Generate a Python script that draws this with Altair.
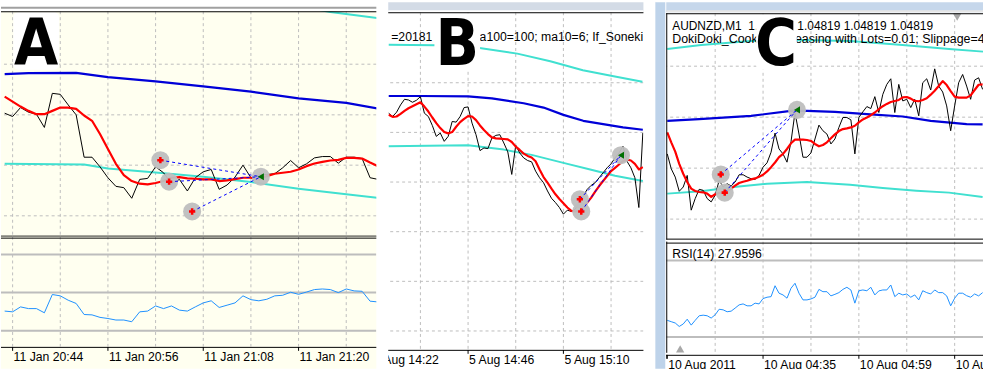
import altair as alt
import pandas as pd

# ================= DATA =================
# ---- Panel A : 11 Jan, M1 (x = minutes after 20:44) ----
A_MIN = list(range(-1, 47))
A_CLOSE = [665, 655, 682, 668, 662, 622, 725, 722, 690, 660,
           532, 532, 503, 470, 444, 440, 408, 465, 468, 503,
           485, 452, 465, 430, 470, 488, 495, 435, 448, 472,
           508, 470, 478, 480, 482, 500, 522, 500, 512, 530,
           534, 534, 514, 532, 532, 528, 470, 465]
A_MA_FAST = [715, 700, 685, 672, 662, 662, 672, 682, 682, 678,
             658, 642, 602, 557, 512, 478, 460, 452, 450, 454,
             460, 470, 472, 468, 467, 465, 465, 460, 462, 466,
             470, 470, 465, 475, 482, 485, 488, 495, 505, 513,
             518, 522, 524, 530, 530, 528, 516, 505]
A_MA_SLOW_MIN = [-1, 2, 8, 12, 18, 24, 30, 36, 42, 46]
A_MA_SLOW = [783, 786, 787, 774, 761, 746, 730, 710, 696, 679]
A_BAND_LO_MIN = [-1, 9, 12, 18, 24, 30, 36, 42, 46]
A_BAND_LO = [512, 510, 498, 486, 473, 457, 437, 420, 409]
A_BAND_HI_MIN = [36, 40, 46]
A_BAND_HI = [988, 971, 952]
A_RSI = [40.3, 39.9, 42.5, 41.6, 41.6, 39.4, 49.0, 48.3, 46.0, 44.3,
         38.5, 38.3, 37.0, 36.4, 35.6, 35.6, 34.7, 39.9, 40.3, 43.0,
         41.6, 43.0, 40.8, 40.3, 42.5, 44.6, 45.7, 42.2, 43.4, 44.6,
         48.3, 46.3, 45.7, 46.5, 48.3, 48.6, 50.2, 49.1, 50.3, 51.6,
         51.9, 51.6, 50.0, 51.9, 50.9, 50.7, 45.5, 45.1]
A_OPEN_MIN = [18.6, 19.7, 22.6]
A_OPEN_PRICE = [523, 458, 368]
A_EXIT_MIN = [31.25]
A_EXIT_PRICE = [473]
A_TICK_MIN = [0, 12, 24, 36]
A_TICK_LABELS = ["11 Jan 20:44", "11 Jan 20:56", "11 Jan 21:08", "11 Jan 21:20"]
A_VGRID = [0, 6, 12, 18, 24, 30, 36, 42]
A_HGRID = [813, 660, 508, 355]
A_LEVELS = [30, 50, 70]

# ---- Panel B : 5 Aug (x = minutes after 14:22) ----
B_MIN = list(range(4, 69))
B_CLOSE = [765, 755, 768, 790, 807, 805, 798, 804, 815, 765,
           755, 728, 695, 705, 680, 695, 740, 738, 755, 782,
           784, 735, 700, 652, 660, 658, 690, 698, 700, 675,
           648, 580, 668, 645, 630, 622, 618, 590, 570, 555,
           530, 508, 495, 480, 460, 472, 468, 475, 495, 515,
           535, 547, 555, 570, 585, 600, 612, 630, 645, 665,
           620, 600, 570, 480, 705]
B_MA_FAST = [760, 754, 755, 763, 772, 780, 786, 792, 798, 785,
             770, 752, 735, 720, 708, 704, 708, 724, 738, 748,
             756, 755, 744, 728, 714, 702, 692, 689, 688, 687,
             686, 678, 664, 654, 643, 636, 631, 620, 595, 572,
             555, 537, 520, 506, 493, 480, 470, 468, 470, 480,
             495, 510, 528, 545, 560, 575, 590, 600, 610, 620,
             625, 622, 612, 595, 602]
B_MA_SLOW_MIN = [4, 12, 24, 30, 38, 43, 48, 53, 58, 63, 68]
B_MA_SLOW = [817, 817, 816, 810, 795, 782, 760, 742, 732, 722, 715]
B_BAND_LO_MIN = [4, 24, 33, 40, 48, 55, 61, 68]
B_BAND_LO = [665, 668, 655, 639, 615, 594, 576, 560]
B_BAND_HI_MIN = [4, 15.7, 26.9, 36.4, 44.7, 52.9, 61.3, 67.9]
B_BAND_HI = [972, 970, 962, 945, 922, 895, 875, 860]
B_OPEN_MIN = [52.15, 52.5]
B_OPEN_PRICE = [505, 468]
B_EXIT_MIN = [62.5]
B_EXIT_PRICE = [638]
B_TICK_MIN = [0, 24, 48]
B_TICK_LABELS = ["5 Aug 14:22", "5 Aug 14:46", "5 Aug 15:10"]
B_VGRID = [12, 24, 36, 48, 60]
B_HGRID = [857, 707, 557, 407, 257, 107]

# ---- Panel C : AUDNZD M1, 10 Aug 2011 (x = minutes after 04:11) ----
C_MIN = list(range(0, 80))
C_CLOSE = [545, 500, 475, 432, 445, 480, 375, 410, 438, 435,
           410, 400, 420, 465, 445, 455, 448, 460, 482, 482,
           475, 470, 468, 480, 505, 518, 550, 608, 560, 545,
           520, 582, 670, 605, 535, 535, 548, 590, 632, 615,
           605, 575, 590, 625, 655, 655, 648, 545, 655, 672,
           688, 682, 718, 670, 725, 755, 772, 670, 755, 705,
           710, 685, 710, 660, 760, 772, 738, 802, 750, 732,
           690, 615, 690, 760, 785, 750, 710, 768, 775, 740]
C_MA_FAST = [610, 580, 552, 515, 485, 460, 440, 433, 430, 429,
             425, 415, 423, 427, 429, 434, 440, 449, 457, 461,
             464, 468, 471, 476, 482, 492, 505, 519, 535, 545,
             560, 577, 588, 588, 588, 587, 584, 575, 568, 572,
             580, 592, 604, 614, 620, 622, 625, 630, 640, 649,
             655, 662, 670, 680, 689, 696, 702, 705, 708, 716,
             717, 712, 705, 704, 708, 713, 724, 736, 750, 765,
             753, 735, 718, 715, 715, 715, 722, 738, 754, 755]
C_MA_SLOW_MIN = [0, 8, 21, 31, 35, 42, 50, 59, 66, 75, 79]
C_MA_SLOW = [645, 650, 660, 675, 675, 672, 665, 658, 645, 635, 634]
C_BAND_LO_MIN = [0, 8.5, 16.7, 25, 35, 45.8, 54, 62.4, 70.6, 79]
C_BAND_LO = [425, 432, 445, 455, 460, 452, 442, 434, 428, 415]
C_BAND_HI_MIN = [0, 8.5, 20.9, 33.3, 45.8, 58.2, 70.6, 79.1]
C_BAND_HI = [862, 874, 886, 889, 886, 875, 862, 854]
C_RSI = [38.7, 38.0, 37.3, 35.5, 36.8, 39.3, 36.2, 38.7, 41.1, 41.4,
         41.1, 39.9, 41.6, 44.5, 44.2, 43.2, 43.5, 45.1, 46.8, 47.3,
         46.3, 46.3, 47.7, 47.3, 50.1, 50.8, 51.1, 56.8, 52.9, 52.0,
         50.3, 55.5, 58.1, 52.9, 49.4, 49.4, 49.9, 50.8, 54.9, 53.7,
         53.7, 51.5, 52.3, 53.2, 54.9, 56.0, 54.6, 47.7, 54.2, 54.6,
         54.2, 56.0, 52.0, 54.1, 54.6, 54.6, 57.2, 51.1, 52.9, 52.0,
         52.5, 50.8, 52.0, 49.4, 54.2, 53.2, 52.5, 54.6, 53.2, 53.2,
         51.5, 46.3, 50.3, 52.9, 52.9, 51.6, 50.8, 52.5, 51.5, 53.2]
C_OPEN_MIN = [13.4, 14.4]
C_OPEN_PRICE = [483, 428]
C_EXIT_MIN = [32.5]
C_EXIT_PRICE = [678]
C_TICK_MIN = [0, 24, 48, 72]
C_TICK_LABELS = ["10 Aug 2011", "10 Aug 04:35", "10 Aug 04:59", "10 Aug 05:23"]
C_VGRID = [12, 24, 36, 48, 60, 72]
C_HGRID = [810, 656, 502, 348]
C_LEVELS = [30, 70]

B_TEXT_LEFT = "=20181"
B_TEXT_RIGHT = "a100=100; ma10=6; If_Soneki"
C_TEXT_1A = "AUDNZD,M1\u00a0 1.04819"
C_TEXT_1B = "1.04819 1.04819 1.04819"
C_TEXT_2 = "DokiDoki_Cookie_Increasing with Lots=0.01; Slippage=4; MaxOrders=10"
C_RSI_TEXT = "RSI(14) 27.9596"

# ================= STYLE =================
FONT = "Liberation Sans"
BIG_FONT = "Liberation Sans Narrow, DejaVu Sans Condensed, Liberation Sans"
BIG_SIZE = 64
IVORY = "#FFFFF0"
GRID = "#BDBDBD"
CYAN = "#40E0D0"
BLUE = "#0000D8"
RED = "#FF0000"
RSI_BLUE = "#1E90FF"
HALO_GRAY = "#BEBEBE"

ONE = pd.DataFrame({"z": [0]})


def X(dom, field="m"):
    return alt.X(f"{field}:Q", scale=alt.Scale(domain=dom, nice=False, zero=False), axis=None)


def Y(dom, field="v"):
    return alt.Y(f"{field}:Q", scale=alt.Scale(domain=dom, nice=False, zero=False), axis=None)


def line(xs, ys, color, width, xd, yd):
    df = pd.DataFrame({"m": xs, "v": ys})
    return alt.Chart(df).mark_line(color=color, strokeWidth=width, clip=True,
                                   strokeJoin="round").encode(x=X(xd), y=Y(yd))


def vgrid(xs, xd):
    return alt.Chart(pd.DataFrame({"m": xs})).mark_rule(
        color=GRID, strokeWidth=1, strokeDash=[3, 3], clip=True).encode(x=X(xd))


def hgrid(vs, yd, dashed=True, width=1):
    kw = dict(color=GRID, strokeWidth=width, clip=True)
    if dashed:
        kw["strokeDash"] = [3, 3]
    return alt.Chart(pd.DataFrame({"v": vs})).mark_rule(**kw).encode(y=Y(yd))


def hline(y, w, color="black", width=1):
    return alt.Chart(ONE).mark_rule(color=color, strokeWidth=width).encode(
        x=alt.value(0), x2=alt.value(w), y=alt.value(y))


def vline(x, h, color="black", width=1):
    return alt.Chart(ONE).mark_rule(color=color, strokeWidth=width).encode(
        y=alt.value(0), y2=alt.value(h), x=alt.value(x))


def text(t, x, y, size=12, clip=True):
    return alt.Chart(ONE).mark_text(text=t, font=FONT, fontSize=size, align="left",
                                    baseline="middle", color="black", clip=clip).encode(
        x=alt.value(x), y=alt.value(y))


def big_letter(ch, x, y, left=23, right=23):
    box = alt.Chart(ONE).mark_rect(color="white", cornerRadius=5).encode(
        x=alt.value(x - left), x2=alt.value(x + right), y=alt.value(1), y2=alt.value(y + 5))
    halo = alt.Chart(ONE).mark_text(text=ch, font=BIG_FONT, fontSize=BIG_SIZE, fontWeight="bold",
                                    color="white", stroke="white", strokeWidth=2,
                                    strokeJoin="round", align="center",
                                    baseline="alphabetic").encode(x=alt.value(x), y=alt.value(y))
    glyph = alt.Chart(ONE).mark_text(text=ch, font=BIG_FONT, fontSize=BIG_SIZE, fontWeight="bold",
                                     color="black", align="center",
                                     baseline="alphabetic").encode(x=alt.value(x), y=alt.value(y))
    return [box, halo, glyph]


def trades(open_m, open_v, exit_m, exit_v, xd, yd):
    pts = pd.DataFrame({"m": open_m + exit_m, "v": open_v + exit_v})
    circles = alt.Chart(pts).mark_circle(size=330, color=HALO_GRAY, opacity=0.95,
                                         clip=True).encode(x=X(xd), y=Y(yd))
    rows = pd.DataFrame({"x1": open_m, "y1": open_v,
                         "x2": [exit_m[0]] * len(open_m), "y2": [exit_v[0]] * len(open_m)})
    links = alt.Chart(rows).mark_rule(color="#0000FF", strokeWidth=1, strokeDash=[3, 3],
                                      clip=True).encode(
        x=X(xd, "x1"), y=Y(yd, "y1"), x2="x2:Q", y2="y2:Q")
    opens = alt.Chart(pd.DataFrame({"m": open_m, "v": open_v})).mark_point(
        shape="cross", filled=True, color=RED, size=40, opacity=1).encode(x=X(xd), y=Y(yd))
    exits = alt.Chart(pd.DataFrame({"m": exit_m, "v": exit_v})).mark_point(
        shape="triangle-left", filled=True, color="#007000", size=50, opacity=1).encode(
        x=X(xd), y=Y(yd))
    return [circles, links, opens, exits]


def label_strip(ticks, labels, xd, w, h, size, ty, fill, left_frame=False):
    df = pd.DataFrame({"m": ticks, "label": labels})
    tick_marks = alt.Chart(df).mark_rule(color="black", strokeWidth=1, clip=True).encode(
        x=X(xd), y=alt.value(0), y2=alt.value(4))
    txt = alt.Chart(df).mark_text(font=FONT, fontSize=size, align="left", baseline="middle",
                                  color="black", clip=True, dx=1).encode(
        x=X(xd), y=alt.value(ty), text="label:N")
    layers = [hline(0.5, w), tick_marks, txt]
    if left_frame:
        layers.append(vline(0.5, 4))
    return alt.layer(*layers).properties(
        width=w, height=h, view=alt.ViewBackground(fill=fill, strokeWidth=0))


def bar(w, h, fill, layers):
    return alt.layer(*layers).properties(
        width=w, height=h, view=alt.ViewBackground(fill=fill, strokeWidth=0))


# ================= PANEL A =================
A_W = 378
A_X = [-1.4625, 45.7875]
A_Y = [292, 973]
A_RY = [21.5, 79.4]

topA = bar(A_W, 9, "white", [hline(5.5, A_W, "#A0A0A0", 2)])
mainA = alt.layer(
    hgrid(A_HGRID, A_Y), vgrid(A_VGRID, A_X),
    line(A_BAND_HI_MIN, A_BAND_HI, CYAN, 2, A_X, A_Y),
    line(A_BAND_LO_MIN, A_BAND_LO, CYAN, 2, A_X, A_Y),
    line(A_MA_SLOW_MIN, A_MA_SLOW, BLUE, 2.2, A_X, A_Y),
    line(A_MIN, A_CLOSE, "black", 1, A_X, A_Y),
    line(A_MIN, A_MA_FAST, RED, 2.2, A_X, A_Y),
    *trades(A_OPEN_MIN, A_OPEN_PRICE, A_EXIT_MIN, A_EXIT_PRICE, A_X, A_Y),
    *big_letter("A", 35.5, 54),
    hline(0.5, A_W), hline(226.5, A_W),
).properties(width=A_W, height=227, view=alt.ViewBackground(fill=IVORY, strokeWidth=0))
subA = alt.layer(
    vgrid(A_VGRID, A_X),
    hgrid(A_LEVELS, A_RY, dashed=False, width=2),
    line(A_MIN, A_RSI, RSI_BLUE, 1, A_X, A_RY),
    hline(1.5, A_W),
).properties(width=A_W, height=111, view=alt.ViewBackground(fill=IVORY, strokeWidth=0))
labA = label_strip(A_TICK_MIN, A_TICK_LABELS, A_X, A_W, 22, 12.3, 10.5, IVORY)
colA = alt.vconcat(topA, mainA, subA, labA, spacing=0)

# ================= PANEL B =================
B_W = 257
B_X = [3.9, 68.15]
B_Y = [50, 1070]

topB = bar(B_W, 10, "#D3DBE6", [hline(9, B_W, "white", 2)])
mainB = alt.layer(
    hgrid(B_HGRID, B_Y), vgrid(B_VGRID, B_X),
    line(B_BAND_HI_MIN, B_BAND_HI, CYAN, 2, B_X, B_Y),
    line(B_BAND_LO_MIN, B_BAND_LO, CYAN, 2, B_X, B_Y),
    line(B_MA_SLOW_MIN, B_MA_SLOW, BLUE, 2.2, B_X, B_Y),
    line(B_MIN, B_CLOSE, "black", 1, B_X, B_Y),
    line(B_MIN, B_MA_FAST, RED, 2.2, B_X, B_Y),
    *trades(B_OPEN_MIN, B_OPEN_PRICE, B_EXIT_MIN, B_EXIT_PRICE, B_X, B_Y),
    text(B_TEXT_LEFT, 3, 25, 12.3), text(B_TEXT_RIGHT, 92, 25, 12.3),
    *big_letter("B", 69.5, 53),
    hline(0.5, B_W),
).properties(width=B_W, height=340, view=alt.ViewBackground(fill="white", strokeWidth=0))
labB = label_strip(B_TICK_MIN, B_TICK_LABELS, B_X, B_W, 19, 12.3, 10, "white")
colB = alt.vconcat(topB, mainB, labB, spacing=0)

# ================= PANEL C =================
C_W = 319
C_X = [-0.25, 79.1]
C_Y = [286, 970]
C_RY = [21.7, 79.9]

topC = bar(C_W, 10, "#C6D7EB", [hline(9, C_W, "#E6E6E6", 2)])
mainC = alt.layer(
    hgrid(C_HGRID, C_Y), vgrid(C_VGRID, C_X),
    line(C_BAND_HI_MIN, C_BAND_HI, CYAN, 2, C_X, C_Y),
    line(C_BAND_LO_MIN, C_BAND_LO, CYAN, 2, C_X, C_Y),
    line(C_MA_SLOW_MIN, C_MA_SLOW, BLUE, 2.2, C_X, C_Y),
    line(C_MIN, C_CLOSE, "black", 1, C_X, C_Y),
    line(C_MIN, C_MA_FAST, RED, 2.2, C_X, C_Y),
    *trades(C_OPEN_MIN, C_OPEN_PRICE, C_EXIT_MIN, C_EXIT_PRICE, C_X, C_Y),
    text(C_TEXT_1A, 6, 13, 12), text(C_TEXT_2, 6, 26, 12.5),
    *big_letter("C", 110.5, 52, left=20, right=21),
    text(C_TEXT_1B, 132, 13, 12),
    alt.Chart(ONE).mark_point(shape="triangle-down", filled=True, color="#A8A8A8",
                              size=70, opacity=1).encode(x=alt.value(293), y=alt.value(4)),
    hline(0.5, C_W), hline(227.5, C_W), vline(0.5, 228),
).properties(width=C_W, height=228, view=alt.ViewBackground(fill="white", strokeWidth=0))
subC = alt.layer(
    vgrid(C_VGRID, C_X),
    hgrid(C_LEVELS, C_RY, dashed=False, width=2),
    line(C_MIN, C_RSI, RSI_BLUE, 1, C_X, C_RY),
    text(C_RSI_TEXT, 6, 12.7, 12.3),
    alt.Chart(ONE).mark_point(shape="triangle-up", filled=True, color="#A8A8A8",
                              size=70, opacity=1).encode(x=alt.value(14), y=alt.value(108)),
    hline(1.5, C_W), vline(0.5, 112),
).properties(width=C_W, height=112, view=alt.ViewBackground(fill="white", strokeWidth=0))
labC = label_strip(C_TICK_MIN, C_TICK_LABELS, C_X, C_W, 19, 12.3, 10, "white", left_frame=True)
colC = alt.vconcat(topC, mainC, subC, labC, spacing=0)

strip = bar(10, 369, "#BED3EA", [hline(0, 1, "#BED3EA", 0.1)])

chart = alt.hconcat(
    colA, colB, alt.hconcat(strip, colC, spacing=0), spacing=10
).properties(padding=0, background="white").configure_view(strokeWidth=0)

chart.save("out.html", embed_options={"renderer": "svg", "actions": False})
